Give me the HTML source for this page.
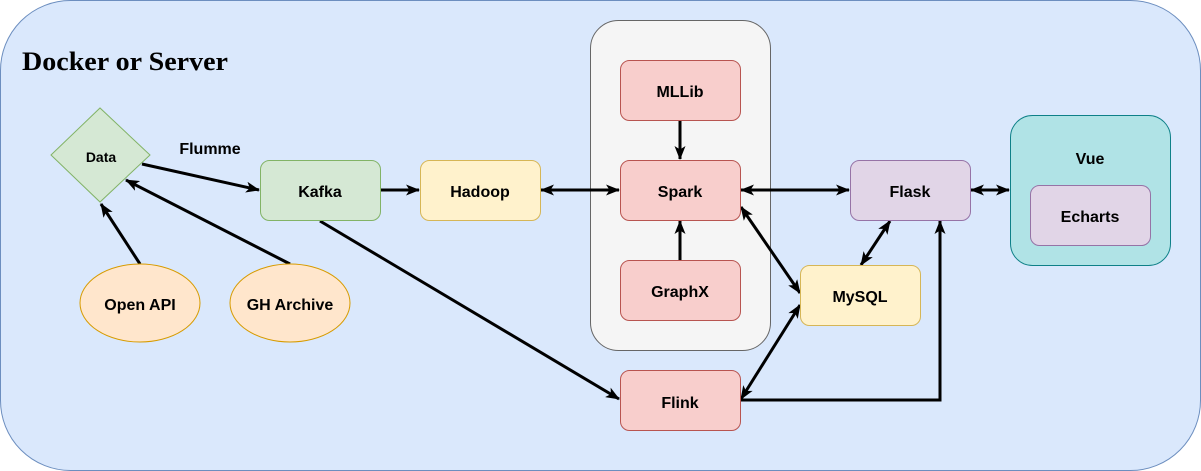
<!DOCTYPE html>
<html><head><meta charset="utf-8"><style>
html,body{margin:0;padding:0;background:#fff;}
svg{display:block;}
text{font-family:"Liberation Sans","DejaVu Sans",sans-serif;font-weight:bold;font-size:16px;fill:#000;}
</style></head><body>
<svg width="1201" height="471" viewBox="0 0 1201 471" xmlns="http://www.w3.org/2000/svg">
<defs>
<marker id="a" viewBox="0 0 14 11" refX="13" refY="5.5" markerWidth="14" markerHeight="11" orient="auto-start-reverse" markerUnits="userSpaceOnUse">
<path d="M0,0 L14,5.5 L0,11 L3.5,5.5 Z" fill="#000"/>
</marker>
</defs>
<rect x="0.5" y="0.5" width="1200" height="470" rx="70" fill="#dae8fc" stroke="#6c8ebf"/>
<text x="22" y="70" textLength="206" lengthAdjust="spacingAndGlyphs" style="font-family:'Liberation Serif',serif;font-size:26px">Docker or Server</text>

<rect x="590.5" y="20.5" width="180" height="330" rx="28" fill="#f5f5f5" stroke="#666"/>
<rect x="1010.5" y="115.5" width="160" height="150" rx="22" fill="#b0e3e6" stroke="#0e8088"/>
<text x="1090" y="164" text-anchor="middle">Vue</text>

<g stroke="#000" stroke-width="3" fill="none">
<line x1="142" y1="164" x2="259" y2="190" marker-end="url(#a)"/>
<line x1="140" y1="264" x2="101" y2="204" marker-end="url(#a)"/>
<line x1="290" y1="264" x2="126" y2="180" marker-end="url(#a)"/>
<line x1="380" y1="190" x2="419" y2="190" marker-end="url(#a)"/>
<line x1="541" y1="190" x2="619" y2="190" marker-start="url(#a)" marker-end="url(#a)"/>
<line x1="680" y1="120" x2="680" y2="159" marker-end="url(#a)"/>
<line x1="680" y1="260" x2="680" y2="221" marker-end="url(#a)"/>
<line x1="741" y1="190" x2="849" y2="190" marker-start="url(#a)" marker-end="url(#a)"/>
<line x1="741" y1="207" x2="800" y2="293" marker-start="url(#a)" marker-end="url(#a)"/>
<line x1="890" y1="221" x2="861" y2="265" marker-start="url(#a)" marker-end="url(#a)"/>
<line x1="971" y1="190" x2="1009" y2="190" marker-start="url(#a)" marker-end="url(#a)"/>
<line x1="320" y1="221" x2="619" y2="399" marker-end="url(#a)"/>
<line x1="741" y1="399" x2="800" y2="305" marker-start="url(#a)" marker-end="url(#a)"/>
<polyline points="740,400 940,400 940,221" marker-end="url(#a)"/>
</g>

<polygon points="51,155 100,108 150,155 100,202" fill="#d5e8d4" stroke="#82b366"/>
<text x="101" y="162" text-anchor="middle" style="font-size:14px">Data</text>
<text x="210" y="154" text-anchor="middle">Flumme</text>

<g stroke-width="1">
<rect x="260.5" y="160.5" width="120" height="60" rx="9" fill="#d5e8d4" stroke="#82b366"/>
<rect x="420.5" y="160.5" width="120" height="60" rx="9" fill="#fff2cc" stroke="#d6b656"/>
<rect x="620.5" y="60.5" width="120" height="60" rx="9" fill="#f8cecc" stroke="#b85450"/>
<rect x="620.5" y="160.5" width="120" height="60" rx="9" fill="#f8cecc" stroke="#b85450"/>
<rect x="620.5" y="260.5" width="120" height="60" rx="9" fill="#f8cecc" stroke="#b85450"/>
<rect x="620.5" y="370.5" width="120" height="60" rx="9" fill="#f8cecc" stroke="#b85450"/>
<rect x="850.5" y="160.5" width="120" height="60" rx="9" fill="#e1d5e7" stroke="#9673a6"/>
<rect x="800.5" y="265.5" width="120" height="60" rx="9" fill="#fff2cc" stroke="#d6b656"/>
<rect x="1030.5" y="185.5" width="120" height="60" rx="9" fill="#e1d5e7" stroke="#9673a6"/>
<ellipse cx="140" cy="303" rx="60" ry="39" fill="#ffe6cc" stroke="#d79b00"/>
<ellipse cx="290" cy="303" rx="60" ry="39" fill="#ffe6cc" stroke="#d79b00"/>
</g>
<g text-anchor="middle">
<text x="320" y="197">Kafka</text>
<text x="480" y="197">Hadoop</text>
<text x="680" y="97">MLLib</text>
<text x="680" y="197">Spark</text>
<text x="680" y="297">GraphX</text>
<text x="680" y="408">Flink</text>
<text x="910" y="197">Flask</text>
<text x="860" y="302">MySQL</text>
<text x="1090" y="222">Echarts</text>
<text x="140" y="310">Open API</text>
<text x="290" y="310">GH Archive</text>
</g>
</svg>
</body></html>
